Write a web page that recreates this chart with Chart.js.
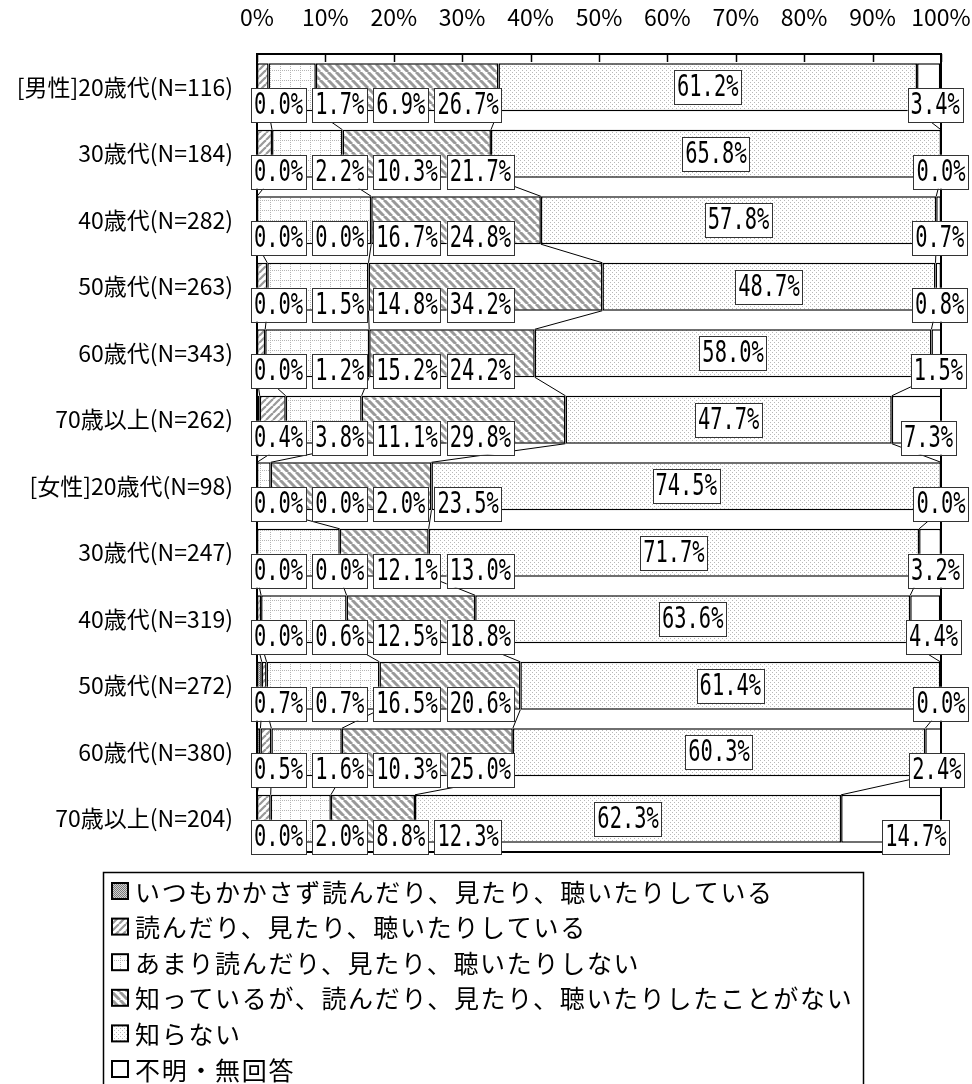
<!DOCTYPE html>
<html>
<head>
<meta charset="utf-8">
<script src="https://cdn.jsdelivr.net/npm/chart.js"></script>
<style>
body { margin: 0; background: #fff; }
</style>
</head>
<body>
<canvas id="myChart" width="972" height="1084"></canvas>
<script>
const categories = [
    '[男性]20歳代(N=116)', '30歳代(N=184)', '40歳代(N=282)', '50歳代(N=263)',
    '60歳代(N=343)', '70歳以上(N=262)', '[女性]20歳代(N=98)', '30歳代(N=247)',
    '40歳代(N=319)', '50歳代(N=272)', '60歳代(N=380)', '70歳以上(N=204)'
];
const seriesNames = [
    'いつもかかさず読んだり、見たり、聴いたりしている',
    '読んだり、見たり、聴いたりしている',
    'あまり読んだり、見たり、聴いたりしない',
    '知っているが、読んだり、見たり、聴いたりしたことがない',
    '知らない',
    '不明・無回答'
];
const itsumo    = [0.0, 0.0, 0.0, 0.0, 0.0, 0.4, 0.0, 0.0, 0.0, 0.7, 0.5, 0.0];
const yondari   = [1.7, 2.2, 0.0, 1.5, 1.2, 3.8, 0.0, 0.0, 0.6, 0.7, 1.6, 2.0];
const amari     = [6.9, 10.3, 16.7, 14.8, 15.2, 11.1, 2.0, 12.1, 12.5, 16.5, 10.3, 8.8];
const shitteiru = [26.7, 21.7, 24.8, 34.2, 24.2, 29.8, 23.5, 13.0, 18.8, 20.6, 25.0, 12.3];
const shiranai  = [61.2, 65.8, 57.8, 48.7, 58.0, 47.7, 74.5, 71.7, 63.6, 61.4, 60.3, 62.3];
const fumei     = [3.4, 0.0, 0.7, 0.8, 1.5, 7.3, 0.0, 3.2, 4.4, 0.0, 2.4, 14.7];
const xTickStep = 10;

const seriesData = [itsumo, yondari, amari, shitteiru, shiranai, fumei];
const AXIS_FONT = "'Liberation Sans Narrow', 'Noto Sans CJK JP', sans-serif";

// fill patterns
function makePattern(size, draw) {
    const c = document.createElement('canvas');
    c.width = size;
    c.height = size;
    const g = c.getContext('2d');
    g.fillStyle = '#fff';
    g.fillRect(0, 0, size, size);
    draw(g, size);
    return g.createPattern(c, 'repeat');
}

const fills = [
    makePattern(2, (g) => {
        g.fillStyle = '#d0d0d0';
        g.fillRect(0, 0, 2, 2);
        g.fillStyle = '#7a7a7a';
        g.fillRect(0, 0, 1, 1);
        g.fillRect(1, 1, 1, 1);
    }),
    makePattern(7, (g, s) => {
        g.strokeStyle = '#999';
        g.lineWidth = 2.2;
        [-s, 0, s].forEach(o => {
            g.beginPath();
            g.moveTo(o, s);
            g.lineTo(o + s, 0);
            g.stroke();
        });
    }),
    makePattern(10, (g, s) => {
        g.fillStyle = '#b4b4b4';
        for (let i = 0; i < s; i += 2) {
            g.fillRect(i, 0, 1, 1);
            g.fillRect(0, i, 1, 1);
        }
    }),
    makePattern(8, (g, s) => {
        g.strokeStyle = '#999';
        g.lineWidth = 3;
        [-s, 0, s].forEach(o => {
            g.beginPath();
            g.moveTo(o, 0);
            g.lineTo(o + s, s);
            g.stroke();
        });
    }),
    makePattern(4, (g) => {
        g.fillStyle = '#b8b8b8';
        g.fillRect(0, 0, 1, 1);
        g.fillRect(2, 2, 1, 1);
    }),
    '#ffffff'
];

// boxed data labels
const LABEL_SX = 0.68;
function labelWidth(ctx, text) {
    ctx.save();
    ctx.font = "30px 'DejaVu Sans Mono'";
    const w = ctx.measureText(text).width * LABEL_SX + 6;
    ctx.restore();
    return w;
}

function drawBox(ctx, text, cx, cy) {
    const w = labelWidth(ctx, text);
    const h = 34;
    ctx.save();
    ctx.fillStyle = '#fff';
    ctx.fillRect(cx - w / 2, cy - h / 2, w, h);
    ctx.strokeStyle = '#333';
    ctx.lineWidth = 1;
    ctx.strokeRect(Math.round(cx - w / 2) + 0.5, Math.round(cy - h / 2) + 0.5, Math.round(w), h);
    ctx.translate(cx, cy + 1);
    ctx.scale(LABEL_SX, 1);
    ctx.font = "30px 'DejaVu Sans Mono'";
    ctx.fillStyle = '#000';
    ctx.textAlign = 'center';
    ctx.textBaseline = 'middle';
    ctx.fillText(text, 0, 0);
    ctx.restore();
}

const extras = {
    id: 'extras',
    afterDatasetsDraw(chart) {
        const ctx = chart.ctx;
        const area = chart.chartArea;
        const xs = chart.scales.x;
        const metas = seriesData.map((s, k) => chart.getDatasetMeta(k));

        // series lines between bars
        ctx.save();
        ctx.strokeStyle = '#000';
        ctx.lineWidth = 1;
        for (let d = 0; d < 5; d++) {
            for (let i = 0; i < categories.length - 1; i++) {
                const a = metas[d].data[i];
                const b = metas[d].data[i + 1];
                ctx.beginPath();
                ctx.moveTo(a.x, a.y + a.height / 2);
                ctx.lineTo(b.x, b.y - b.height / 2);
                ctx.stroke();
            }
        }

        // plot frame and inside ticks
        ctx.lineWidth = 2;
        ctx.strokeRect(area.left, area.top, area.right - area.left, area.bottom - area.top);
        ctx.lineWidth = 1.5;
        xs.ticks.forEach(t => {
            const px = Math.round(xs.getPixelForValue(t.value)) + 0.5;
            ctx.beginPath();
            ctx.moveTo(px, area.top);
            ctx.lineTo(px, area.top + 8);
            ctx.stroke();
        });
        ctx.restore();

        // data labels
        for (let i = 0; i < categories.length; i++) {
            const cy = metas[0].data[i].y;
            let left = 251;
            for (let d = 0; d < 4; d++) {
                const text = seriesData[d][i].toFixed(1) + '%';
                const w = labelWidth(ctx, text);
                drawBox(ctx, text, left + w / 2, cy + 18);
                left += w + 6;
            }
            const el4 = metas[4].data[i];
            drawBox(ctx, seriesData[4][i].toFixed(1) + '%', (el4.x + el4.base) / 2, cy);

            const el5 = metas[5].data[i];
            const t5 = seriesData[5][i].toFixed(1) + '%';
            const w5 = labelWidth(ctx, t5);
            let cx5 = xs.getPixelForValue(100) - 0.25 * (el5.x - el5.base);
            if (cx5 + w5 / 2 > 969) cx5 = 969 - w5 / 2;
            drawBox(ctx, t5, cx5, cy + 18);
        }
    },
    afterDraw(chart) {
        const ctx = chart.ctx;
        ctx.save();
        ctx.strokeStyle = '#000';
        ctx.lineWidth = 1.5;
        ctx.strokeRect(103.5, 872.5, 760, 240);
        ctx.font = "25px 'Noto Sans CJK JP'";
        ctx.letterSpacing = '1.7px';
        ctx.textBaseline = 'middle';
        seriesNames.forEach((name, k) => {
            const y = 891 + k * 35.6;
            ctx.fillStyle = fills[k];
            ctx.fillRect(112, y - 8, 16, 16);
            ctx.lineWidth = 2;
            ctx.strokeRect(112, y - 8, 16, 16);
            ctx.fillStyle = '#000';
            ctx.fillText(name, 135, y + 1);
        });
        ctx.restore();
    }
};

const ctx = document.getElementById('myChart');

new Chart(ctx, {
    type: 'bar',
    data: {
        labels: categories,
        datasets: seriesNames.map((name, k) => ({
            label: name,
            data: seriesData[k],
            backgroundColor: fills[k],
            borderColor: '#000',
            borderWidth: 1.5,
            borderSkipped: false,
            barPercentage: 0.72,
            categoryPercentage: 1
        }))
    },
    options: {
        indexAxis: 'y',
        responsive: false,
        animation: false,
        layout: {
            padding: { left: 0, right: 31, top: 0, bottom: 232 }
        },
        plugins: {
            legend: { display: false },
            tooltip: { enabled: false }
        },
        scales: {
            x: {
                position: 'top',
                stacked: true,
                min: 0,
                max: 100,
                afterFit: (s) => {
                    s.height = 54;
                    s.paddingLeft = 0;
                    s.paddingRight = 0;
                },
                grid: { display: false, drawTicks: false },
                border: { display: true, color: '#000', width: 2 },
                ticks: {
                    stepSize: xTickStep,
                    padding: 23,
                    color: '#000',
                    font: { family: AXIS_FONT, size: 23 },
                    callback: (v) => v + '%'
                }
            },
            y: {
                stacked: true,
                afterFit: (s) => { s.width = 257; },
                grid: { display: false, drawTicks: false },
                border: { display: true, color: '#000', width: 2 },
                ticks: {
                    padding: 24,
                    color: '#000',
                    font: { family: AXIS_FONT, size: 23 }
                }
            }
        }
    },
    plugins: [extras]
});
</script>
</body>
</html>
